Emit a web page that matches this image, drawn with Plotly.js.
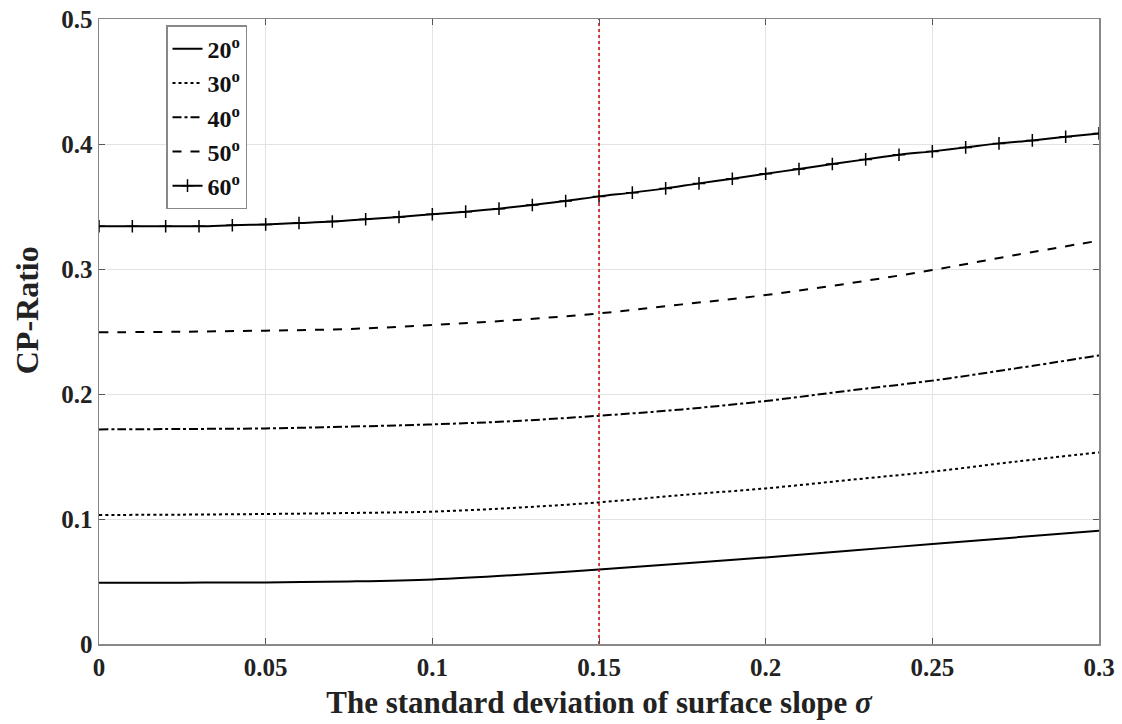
<!DOCTYPE html>
<html>
<head>
<meta charset="utf-8">
<script src="https://cdn.plot.ly/plotly-3.0.1.min.js"></script>
<style>html,body{margin:0;padding:0;background:#fff;}#chart{width:1122px;height:724px;}</style>
</head>
<body>
<div id="chart"></div>
<script>
// sigma grid for the 60° series (marker every 0.01)
const sigmaFine = [0,0.01,0.02,0.03,0.04,0.05,0.06,0.07,0.08,0.09,0.10,0.11,0.12,0.13,0.14,0.15,0.16,0.17,0.18,0.19,0.20,0.21,0.22,0.23,0.24,0.25,0.26,0.27,0.28,0.29,0.30];
const cp60 = [0.3342,0.3342,0.3342,0.3342,0.3350,0.3357,0.3368,0.3380,0.3398,0.3416,0.3438,0.3459,0.3483,0.3512,0.3544,0.3581,0.3611,0.3645,0.3685,0.3722,0.3762,0.3800,0.3840,0.3877,0.3914,0.3941,0.3973,0.4005,0.4029,0.4058,0.4085];
// sigma grid for the other series
const sigma = [0,0.025,0.05,0.075,0.10,0.125,0.15,0.175,0.20,0.225,0.25,0.275,0.30];
const cp20 = [0.0490,0.0491,0.0493,0.0501,0.0517,0.0552,0.0597,0.0645,0.0693,0.0746,0.0800,0.0853,0.0907];
const cp30 = [0.1032,0.1035,0.1040,0.1048,0.1059,0.1090,0.1133,0.1192,0.1245,0.1312,0.1379,0.1459,0.1533];
const cp40 = [0.1717,0.1720,0.1725,0.1739,0.1757,0.1784,0.1826,0.1877,0.1944,0.2027,0.2107,0.2205,0.2309];
const cp50 = [0.2494,0.2498,0.2507,0.2520,0.2552,0.2592,0.2645,0.2717,0.2792,0.2885,0.2992,0.3112,0.3227];
const seriesNames = ["20<sup>o</sup>","30<sup>o</sup>","40<sup>o</sup>","50<sup>o</sup>","60<sup>o</sup>"];
const refSigma = [0.15, 0.15];
const refY = [0, 0.5];
const xTicks = [0,0.05,0.1,0.15,0.2,0.25,0.3];
const xTickText = ["0","0.05","0.1","0.15","0.2","0.25","0.3"];
const yTicks = [0,0.1,0.2,0.3,0.4,0.5];
const yTickText = ["0","0.1","0.2","0.3","0.4","0.5"];
const xTitle = 'The standard deviation of surface slope <i>σ</i>';
const yTitle = 'CP-Ratio';

const font = "Liberation Serif, Times New Roman, serif";
const lw = 2;
const traces = [
  {x: sigma, y: cp20, name: seriesNames[0], mode: 'lines', line: {color: '#000', width: lw, dash: 'solid', shape: 'spline'}},
  {x: sigma, y: cp30, name: seriesNames[1], mode: 'lines', line: {color: '#000', width: lw, dash: 'dot', shape: 'spline'}},
  {x: sigma, y: cp40, name: seriesNames[2], mode: 'lines', line: {color: '#000', width: lw, dash: 'dashdot', shape: 'spline'}},
  {x: sigma, y: cp50, name: seriesNames[3], mode: 'lines', line: {color: '#000', width: lw, dash: 'dash', shape: 'spline'}},
  {x: sigmaFine, y: cp60, name: seriesNames[4], mode: 'lines+markers', line: {color: '#000', width: lw, shape: 'spline'},
   marker: {symbol: 'cross-thin', size: 9, color: '#000', line: {color: '#000', width: 1.5}}},
  {x: refSigma, y: refY, mode: 'lines', showlegend: false, hoverinfo: 'skip', line: {color: '#cc0000', width: 1.5, dash: 'dot'}}
];

const layout = {
  width: 1122, height: 724,
  margin: {l: 99, r: 23, t: 19, b: 80},
  paper_bgcolor: '#fff', plot_bgcolor: '#fff',
  font: {family: font, color: '#000'},
  showlegend: true,
  legend: {x: 0.067, y: 0.99, xanchor: 'left', yanchor: 'top', bgcolor: '#fff', bordercolor: '#888', borderwidth: 1.5,
           font: {family: font, size: 24, weight: 'bold', color: '#111'}, tracegroupgap: 0, itemwidth: 30},
  xaxis: {range: [0, 0.3], tickvals: xTicks, ticktext: xTickText, showgrid: true, gridcolor: '#e3e3e3', gridwidth: 1,
          zeroline: false, showline: true, linecolor: '#888', linewidth: 1.5, mirror: 'ticks', ticks: 'inside', ticklen: 6, tickcolor: '#555',
          tickfont: {family: font, size: 25, weight: 'bold', color: '#222'},
          title: {text: xTitle, font: {family: font, size: 31, weight: 'bold', color: '#222'}, standoff: 12}},
  yaxis: {range: [0, 0.5], tickvals: yTicks, ticktext: yTickText, showgrid: true, gridcolor: '#e3e3e3', gridwidth: 1,
          zeroline: false, showline: true, linecolor: '#888', linewidth: 1.5, mirror: 'ticks', ticks: 'inside', ticklen: 6, tickcolor: '#555',
          tickfont: {family: font, size: 25, weight: 'bold', color: '#222'}},
  annotations: [{text: yTitle, xref: 'paper', yref: 'paper', x: -0.072, y: 0.534, xanchor: 'center', yanchor: 'middle',
                 textangle: -90, showarrow: false, font: {family: font, size: 32, weight: 'bold', color: '#222'}}]
};
Plotly.newPlot('chart', traces, layout, {displayModeBar: false, staticPlot: true});
</script>
</body>
</html>
